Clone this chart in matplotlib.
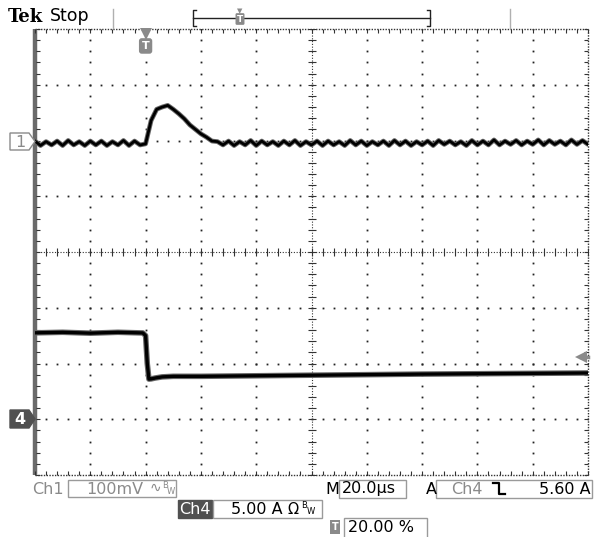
import matplotlib
matplotlib.use('Agg')
import matplotlib.pyplot as plt
import numpy as np
from matplotlib.patches import Rectangle, Polygon
from matplotlib.lines import Line2D

# ---- readings off the scope screen ----
time_per_div = 20.0        # us/div
trig_pos = 0.20            # trigger at 20 % of record
ch1_scale = 100.0          # mV/div
ch4_scale = 5.0            # A/div
trig_level = 5.60          # A
ch1_pos, ch4_pos = 2.0, -3.0   # ground marker, divisions from centre

# ch1 sampled every 2 us from the left edge (-40 us)
ch1_dt = 2.0
ch1_mv = [-1, -9, -2, -8, -1, -9, 0, -8, -2, -9, -1, -8, -1, -9, -2, -8, 0, -9, -1, -8,
          -6, 36, 56, 60, 63, 56, 48, 39, 28, 20, 12, 6, -1, -2,
          -8, -1, -9, -2, -8, 0, -9, -1, -8, -2, -9, -1, -8, 0, -9, -2, -8, -1, -9, -1,
          -8, -2, -9, 0, -8, -1, -9, -2, -8, -1, -9, 0, -8, -1, -9, -2, -8, -1, -9, 0,
          -7, -1, -8, -2, -9, 0, -8, -1, -8, 1, -8, -1, -7, 0, -8, -1, -7, 1, -8, 0,
          -7, -1, -8, 1, -7, 0, -7, -1]

# ch4 current, breakpoints (us, A)
ch4_t = [-40, -30, -20, -10, -1, 0, 0.6, 1.2, 2, 3.5, 6, 10, 20, 60, 100, 130, 160]
ch4_a = [7.75, 7.8, 7.72, 7.8, 7.74, 7.5, 5.0, 3.6, 3.62, 3.7, 3.8, 3.85, 3.85, 3.95, 4.05, 4.1, 4.15]

lbl_ch1, lbl_ch4, lbl_time = '100mV', '5.00 A', '20.0µs'
lbl_trig, lbl_pos = '5.60 A', '20.00 %'

W, H = 597, 537
fig = plt.figure(figsize=(W / 100, H / 100), dpi=100)
GRAY = '#8a8a8a'
DARK = '#505050'


def fx(x):
    return x / W


def fy(y):
    return 1 - y / H


def box(x0, y0, x1, y1, fc='none', ec='#9a9a9a'):
    fig.patches.append(Rectangle((fx(x0), fy(y1)), (x1 - x0) / W, (y1 - y0) / H,
                                 transform=fig.transFigure, fc=fc, ec=ec, lw=1))


def txt(x, y, s, **kw):
    kw.setdefault('size', 11.5)
    kw.setdefault('va', 'center')
    fig.text(fx(x), fy(y), s, **kw)


def fline(xs, ys, **kw):
    fig.add_artist(Line2D([fx(v) for v in xs], [fy(v) for v in ys],
                          transform=fig.transFigure, **kw))


L, R, T, B = 35, 588, 29, 475
rect = [fx(L), fy(B), (R - L) / W, (B - T) / H]

# graticule
g = fig.add_axes(rect)
g.set_xlim(0, 10)
g.set_ylim(0, 8)
g.axis('off')
fine_x = np.arange(0, 10.01, 0.2)
fine_y = np.arange(0, 8.01, 0.2)
for i in range(1, 10):
    if i != 5:
        g.plot(np.full_like(fine_y, i), fine_y, 's', ms=1.3, mew=0, color='#222')
for j in range(1, 8):
    if j != 4:
        g.plot(fine_x, np.full_like(fine_x, j), 's', ms=1.3, mew=0, color='#222')
g.plot([5, 5], [0, 8], ls=(0, (1, 1.5)), lw=0.8, color='#333')
g.plot([0, 10], [4, 4], ls=(0, (1, 1.5)), lw=0.8, color='#333')
g.plot(np.full_like(fine_y, 5), fine_y, '_', ms=6, mew=0.8, color='#333')
g.plot(fine_x, np.full_like(fine_x, 4), '|', ms=6, mew=0.8, color='#333')
# border + edge ticks
for xs, ys in [([0, 10], [8, 8]), ([0, 10], [0, 0]), ([10, 10], [0, 8])]:
    g.plot(xs, ys, ls=(0, (1, 1)), lw=1, color='#333', clip_on=False)
g.plot([0, 0], [0, 8], lw=3.2, color='#6a6a6a', clip_on=False, solid_capstyle='butt')
g.plot(fine_x, np.full_like(fine_x, 7.965), '|', ms=3.5, mew=0.8, color='#333', clip_on=False)
g.plot(fine_x, np.full_like(fine_x, 0.035), '|', ms=3.5, mew=0.8, color='#333', clip_on=False)
g.plot(np.full_like(fine_y, 0.06), fine_y, '_', ms=3.5, mew=0.8, color='#333', clip_on=False)
g.plot(np.full_like(fine_y, 9.965), fine_y, '_', ms=3.5, mew=0.8, color='#333', clip_on=False)

t_left = -trig_pos * 10 * time_per_div
t_right = t_left + 10 * time_per_div

ax1 = fig.add_axes(rect, facecolor='none')
ax1.set_xlim(t_left, t_right)
ax1.set_ylim((-4 - ch1_pos) * ch1_scale, (4 - ch1_pos) * ch1_scale)
ax1.axis('off')
ax4 = fig.add_axes(rect, facecolor='none')
ax4.set_xlim(t_left, t_right)
ax4.set_ylim((-4 - ch4_pos) * ch4_scale, (4 - ch4_pos) * ch4_scale)
ax4.axis('off')

ch1_t = t_left + ch1_dt * np.arange(len(ch1_mv))
ax1.plot(ch1_t, ch1_mv, color='#666', lw=3.4)
ax1.plot(ch1_t, ch1_mv, color='black', lw=2.0)
ax4.plot(ch4_t, ch4_a, color='#666', lw=4.0)
ax4.plot(ch4_t, ch4_a, color='black', lw=2.4)

# trigger level arrow
ax4.plot([157.5], [trig_level], '<', ms=8, mew=0, color=GRAY)
ax4.plot([157.5, t_right], [trig_level, trig_level], lw=2.5, color=GRAY, clip_on=False)

# trigger position marker
bt = ax1.get_xaxis_transform()
ax1.plot([0], [0.988], 'v', ms=8, mew=0, color=GRAY, transform=bt, clip_on=False)
ax1.text(0, 0.962, 'T', transform=bt, ha='center', va='center', color='white',
         size=8, weight='bold',
         bbox=dict(boxstyle='round,pad=0.25', fc=GRAY, ec='none'))

# channel ground markers
fig.patches.append(Polygon([(fx(10), fy(133)), (fx(29), fy(133)), (fx(35), fy(141.5)),
                            (fx(29), fy(150)), (fx(10), fy(150))], closed=True,
                           transform=fig.transFigure, fc='white', ec=GRAY, lw=1))
txt(15, 142, '1', color=GRAY, size=11.5)
fig.patches.append(Polygon([(fx(10), fy(410)), (fx(29), fy(410)), (fx(35), fy(419)),
                            (fx(29), fy(428)), (fx(10), fy(428))], closed=True,
                           transform=fig.transFigure, fc=DARK, ec=DARK, lw=1))
txt(14, 419, '4', color='white', size=11.5, weight='bold')

# header
txt(8, 17, 'Tek', family='DejaVu Serif', weight='bold', size=13)
txt(50, 16, 'Stop', size=12.5)
fline([113, 113], [9, 28], color='#b0b0b0', lw=1)
fline([510, 510], [9, 28], color='#b0b0b0', lw=1)
fline([193, 430], [18, 18], color='#222', lw=1)
fline([196, 193, 193, 196], [10, 10, 26, 26], color='#222', lw=1)
fline([427, 430, 430, 427], [10, 10, 26, 26], color='#222', lw=1)
txt(240, 19, 'T', ha='center', color='white', size=6.5, weight='bold',
    bbox=dict(boxstyle='round,pad=0.15', fc=GRAY, ec='none'))
fig.text(fx(240), fy(11), '▼', ha='center', va='center', color=GRAY, size=5)

# bottom readouts
txt(32, 489, 'Ch1', color=GRAY)
box(68, 480, 176, 497)
txt(86, 489, lbl_ch1, color=GRAY)
txt(150, 488, '∿', color=GRAY, size=10)
txt(162, 485, 'B', color=GRAY, size=6)
txt(167, 492, 'W', color=GRAY, size=6)

box(178, 500, 212, 518, fc=DARK, ec=DARK)
txt(179, 509, 'Ch4', color='white')
box(213, 500, 322, 518)
txt(231, 509, lbl_ch4, color='black')
txt(288, 509, 'Ω', color='black', size=10.5)
txt(301, 505, 'B', color='black', size=6)
txt(307, 512, 'W', color='black', size=6)

txt(325, 489, 'M', color='black')
box(339, 480, 406, 498)
txt(342, 489, lbl_time, color='black')
txt(426, 489, 'A', color='black')
box(436, 480, 592, 498)
txt(451, 489, 'Ch4', color=GRAY)
fline([493, 499, 499, 505], [483, 483, 494, 494], color='black', lw=1.6)
txt(591, 489, lbl_trig, color='black', ha='right')

txt(335, 527, 'T', ha='center', color='white', size=7, weight='bold',
    bbox=dict(boxstyle='square,pad=0.2', fc=GRAY, ec='none'))
box(344, 518, 427, 545)
txt(348, 528, lbl_pos, color='black')

fig.savefig('out.png', dpi=100)
